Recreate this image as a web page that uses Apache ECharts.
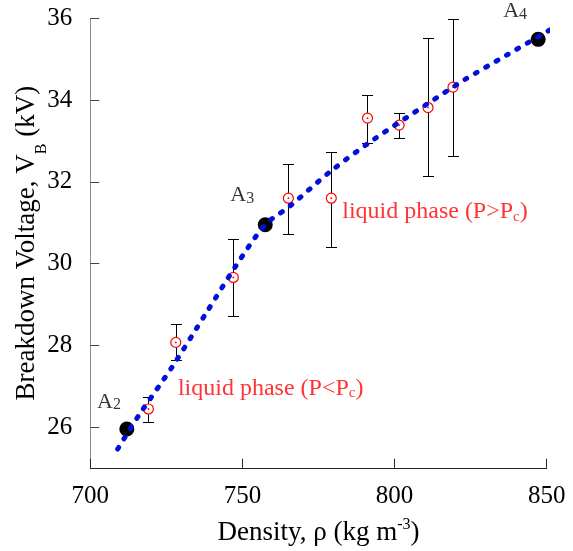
<!DOCTYPE html>
<html><head><meta charset="utf-8">
<script src="https://cdn.jsdelivr.net/npm/echarts@6/dist/echarts.min.js"></script>
<style>html,body{margin:0;padding:0;background:#fff}#c{width:573px;height:551px}</style>
</head><body><div id="c"></div>
<script>
// ---- data ----
const xTicks = [700, 750, 800, 850];
const yTicks = [26, 28, 30, 32, 34, 36];
const refNames = ['A2', 'A3', 'A4'];
const refX = [712, 757.5, 847.2];
const refY = [25.95, 30.95, 35.49];
const measX = [719.1, 728.1, 747.0, 765.1, 779.2, 791.1, 801.5, 811.0, 819.2];
const measY = [26.44, 28.07, 29.66, 31.60, 31.60, 33.56, 33.39, 33.82, 34.32];
const errLow = [26.12, 27.64, 28.72, 30.73, 30.41, 32.94, 33.07, 32.14, 32.63];
const errHigh = [26.74, 28.51, 30.59, 32.44, 32.74, 34.13, 33.69, 35.52, 35.99];
const fitX = [709, 716, 727, 738, 748, 757.5, 765.5, 779, 793, 811, 823, 837, 852];
const fitY = [25.46, 26.29, 27.48, 28.78, 29.96, 30.95, 31.40, 32.26, 33.03, 33.92, 34.50, 35.11, 35.76];
// annotation anchors (left edge, vertical middle of text), in data units
const refLabelX = [702.2, 746, 835.7];
const refLabelY = [26.61, 31.67, 36.17];
const phaseLabels = ['liquid phase (P<P', 'liquid phase (P>P'];
const phaseX = [728.8, 782.8];
const phaseY = [26.93, 31.26];

const FONT = '"Liberation Serif", "Times New Roman", serif';
const chart = echarts.init(document.getElementById('c'), null, {renderer: 'canvas'});

const errData = measX.map((x, i) => [x, errLow[i], errHigh[i]]);

chart.setOption({
  animation: false,
  backgroundColor: '#fff',
  grid: {left: 90.3, right: 26.3, top: 18.5, bottom: 83.2, containLabel: false, outerBoundsMode: 'none'},
  xAxis: {
    type: 'value', min: 700, max: 850, interval: 50,
    axisLine: {show: true, lineStyle: {color: '#222', width: 1}},
    axisTick: {show: true, inside: true, length: 9, lineStyle: {color: '#222'}},
    axisLabel: {fontFamily: FONT, fontSize: 25, color: '#000', margin: 16,
      customValues: xTicks},
    splitLine: {show: false},
    name: 'Density, ρ (kg m{sup|-3}{n|)}',
    nameLocation: 'middle', nameGap: 49, nameMoveOverlap: false,
    nameTextStyle: {fontFamily: FONT, fontSize: 27, color: '#000',
      rich: {sup: {fontFamily: FONT, fontSize: 16, verticalAlign: 'top', color: '#000', lineHeight: 32},
             n: {fontFamily: FONT, fontSize: 27, color: '#000'}}}
  },
  yAxis: {
    type: 'value', min: 25, max: 36,
    axisLine: {show: true, lineStyle: {color: '#8a8a8a', width: 1}},
    axisTick: {show: true, inside: true, length: 9, lineStyle: {color: '#444'}, customValues: yTicks},
    axisLabel: {fontFamily: FONT, fontSize: 25, color: '#000', margin: 18, customValues: yTicks},
    splitLine: {show: false},
    name: 'Breakdown Voltage, V{sub|B}{n| (kV)}',
    nameLocation: 'middle', nameGap: 41, nameMoveOverlap: false,
    nameTextStyle: {fontFamily: FONT, fontSize: 27, color: '#000', lineHeight: 44,
      rich: {sub: {fontFamily: FONT, fontSize: 16, verticalAlign: 'bottom', lineHeight: 11, color: '#000'},
             n: {fontFamily: FONT, fontSize: 27, color: '#000', lineHeight: 44}}}
  },
  series: [
    {
      type: 'custom', z: 2, clip: false,
      data: errData,
      renderItem: function (params, api) {
        const x = api.value(0);
        const lo = api.coord([x, api.value(1)]);
        const hi = api.coord([x, api.value(2)]);
        const cx = Math.round(lo[0]) + 0.5;
        const yl = Math.round(lo[1]) + 0.5, yh = Math.round(hi[1]) + 0.5;
        const w = 5.5;
        const st = {stroke: '#000', lineWidth: 1};
        return {type: 'group', children: [
          {type: 'line', shape: {x1: cx, y1: yl, x2: cx, y2: yh}, style: st},
          {type: 'line', shape: {x1: cx - w, y1: yl, x2: cx + w, y2: yl}, style: st},
          {type: 'line', shape: {x1: cx - w, y1: yh, x2: cx + w, y2: yh}, style: st}
        ]};
      }
    },
    {
      type: 'scatter', z: 3, symbol: 'circle', symbolSize: 10,
      itemStyle: {color: '#fff', borderColor: '#ff0000', borderWidth: 1.2, opacity: 1},
      data: measX.map((x, i) => [x, measY[i]])
    },
    {
      type: 'scatter', z: 4, symbol: 'circle', symbolSize: 1.8,
      itemStyle: {color: '#ff0000', opacity: 1},
      data: measX.map((x, i) => [x, measY[i]])
    },
    {
      type: 'scatter', z: 5, symbol: 'circle', symbolSize: 15,
      itemStyle: {color: '#000', opacity: 1},
      data: refX.map((x, i) => [x, refY[i]])
    },
    {
      type: 'line', z: 6, clip: false, showSymbol: false, symbol: 'none', smooth: 0.3,
      lineStyle: {color: '#0010d8', width: 5, type: [2, 10], cap: 'round'},
      data: fitX.map((x, i) => [x, fitY[i]])
    },
    {
      type: 'scatter', z: 7, clip: false, symbolSize: 0, silent: true,
      data: refLabelX.map((x, i) => ({value: [x, refLabelY[i]], name: refNames[i]})),
      label: {show: true, position: 'right', distance: 0,
        formatter: p => '{a|' + p.name.charAt(0) + '}{d|' + p.name.slice(1) + '}',
        rich: {a: {fontFamily: FONT, fontSize: 22, color: '#000', verticalAlign: 'bottom', lineHeight: 22},
               d: {fontFamily: FONT, fontSize: 16, color: '#000', verticalAlign: 'bottom', lineHeight: 18}}}
    },
    {
      type: 'scatter', z: 7, clip: false, symbolSize: 0, silent: true,
      data: phaseX.map((x, i) => ({value: [x, phaseY[i]], name: phaseLabels[i]})),
      label: {show: true, position: 'right', distance: 0,
        formatter: p => '{t|' + p.name + '}{c|c}{t|)}',
        rich: {t: {fontFamily: FONT, fontSize: 24, color: '#ff0000', verticalAlign: 'bottom', lineHeight: 24},
               c: {fontFamily: FONT, fontSize: 15, color: '#ff0000', verticalAlign: 'bottom', lineHeight: 18}}}
    }
  ]
});
</script></body></html>
